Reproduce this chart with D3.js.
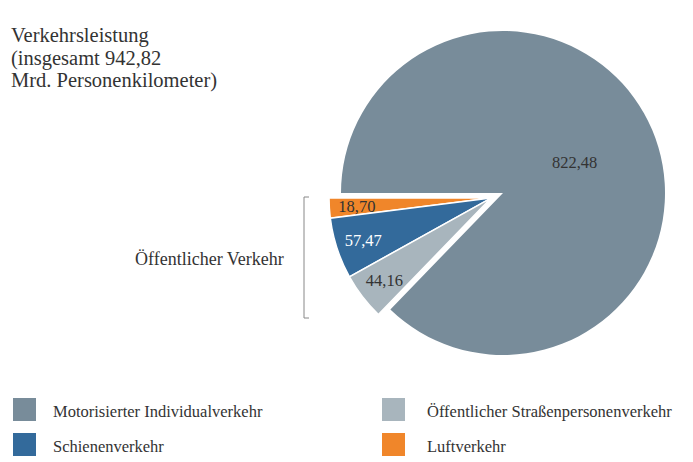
<!DOCTYPE html>
<html>
<head>
<meta charset="utf-8">
<script src="https://cdn.jsdelivr.net/npm/d3@7"></script>
<style>
  body { margin: 0; background: #fff; }
  text { font-family: "Liberation Serif", "DejaVu Serif", serif; }
</style>
</head>
<body>
<div id="chart"></div>
<script>
// values in Mrd. Personenkilometer
const categories = ["Luftverkehr", "Schienenverkehr", "Öffentlicher Straßenpersonenverkehr", "Motorisierter Individualverkehr"];
const values = [18.70, 57.47, 44.16, 822.48];
const valueLabels = ["18,70", "57,47", "44,16", "822,48"];
const colors = ["#f0862a", "#336a9b", "#a8b5bd", "#788c9a"];
const labelColors = ["#333", "#fff", "#333", "#333"];
const titleLines = ["Verkehrsleistung", "(insgesamt 942,82", "Mrd. Personenkilometer)"];
const legendOrder = [3, 2, 1, 0];

const width = 693, height = 462;
const cx = 503, cy = 193, radius = 162;

const svg = d3.select("#chart")
  .append("svg")
    .attr("width", width)
    .attr("height", height);

// title, one text per line
svg.append("g")
  .selectAll("text")
  .data(titleLines)
  .join("text")
    .attr("x", 11)
    .attr("y", (d, i) => 42 + i * 22.5)
    .style("font-size", "20.5px")
    .style("fill", "#333")
    .text(d => d);

// pie starts pointing left and runs counter-clockwise
const pie = d3.pie()
    .sort(null)
    .startAngle(1.5 * Math.PI)
    .endAngle(-0.5 * Math.PI);
const arcs = pie(values);

const arc = d3.arc().innerRadius(0).outerRadius(radius);

// small slices pulled out together along their common middle angle
const groupMid = (arcs[0].startAngle + arcs[2].endAngle) / 2;
const explode = 13;
const ox = Math.sin(groupMid) * explode, oy = -Math.cos(groupMid) * explode;

const g = svg.append("g")
    .attr("transform", `translate(${cx},${cy})`);

g.selectAll("path")
  .data(arcs)
  .join("path")
    .attr("d", arc)
    .attr("transform", (d, i) => i < 3 ? `translate(${ox},${oy})` : null)
    .attr("fill", (d, i) => colors[i])
    .attr("stroke", "#fff")
    .attr("stroke-width", (d, i) => i < 3 ? 1.5 : 0);

// value labels
g.selectAll("text.val")
  .data(arcs)
  .join("text")
    .attr("class", "val")
    .attr("transform", (d, i) => {
      const r = i < 3 ? radius * 0.83 : radius * 0.48;
      const a = (d.startAngle + d.endAngle) / 2;
      const dx = i < 3 ? ox : 0, dy = i < 3 ? oy : 0;
      return `translate(${Math.sin(a) * r + dx},${-Math.cos(a) * r + dy})`;
    })
    .attr("text-anchor", "middle")
    .attr("dy", "0.35em")
    .style("font-size", "16.5px")
    .style("fill", (d, i) => labelColors[i])
    .text((d, i) => valueLabels[i]);

// bracket for the public transport group
const bx = 304, by0 = 197, by1 = 318;
svg.append("path")
    .attr("d", `M${bx + 5},${by0}H${bx}V${by1}H${bx + 5}`)
    .attr("fill", "none")
    .attr("stroke", "#888")
    .attr("stroke-width", 1);
svg.append("text")
    .attr("x", 135)
    .attr("y", 265)
    .style("font-size", "18px")
    .style("fill", "#333")
    .text("Öffentlicher Verkehr");

// legend
const colX = [13, 382], textX = [40, 45];
const legend = svg.append("g")
  .selectAll("g")
  .data(legendOrder)
  .join("g")
    .attr("transform", (d, i) => `translate(${colX[i % 2]},${398 + Math.floor(i / 2) * 35})`);
legend.append("rect")
    .attr("width", 23)
    .attr("height", 23)
    .attr("fill", d => colors[d]);
legend.append("text")
    .attr("x", (d, i) => textX[i % 2])
    .attr("y", 19)
    .style("font-size", "16.5px")
    .style("fill", "#333")
    .text(d => categories[d]);
</script>
</body>
</html>
